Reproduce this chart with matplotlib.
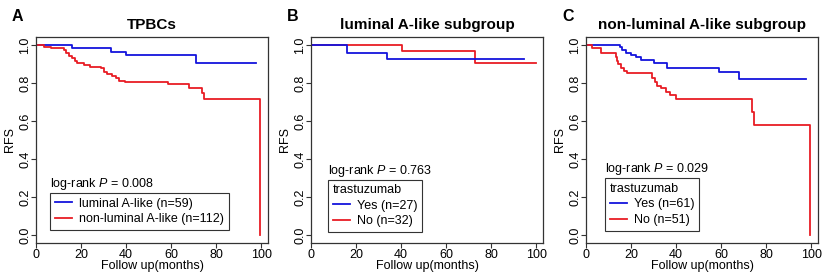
import matplotlib
matplotlib.use("Agg")
import matplotlib.pyplot as plt

plt.rcParams['font.family'] = ['Liberation Sans', 'DejaVu Sans']
plt.rcParams['mathtext.fontset'] = 'custom'
plt.rcParams['mathtext.rm'] = 'Liberation Sans'
plt.rcParams['mathtext.it'] = 'Liberation Sans:italic'

# survival curves (time in months, RFS)
a_lum_t = [0, 16.1, 33.2, 39.9, 71.0, 97.8]
a_lum_s = [1.0, 0.982, 0.965, 0.947, 0.904, 0.904]
a_non_t = [0, 3.6, 6.8, 12.4, 13.2, 14.7, 15.9, 17.2, 18.4, 21.3, 24.0, 28.7,
           30.2, 31.4, 33.9, 35.4, 36.9, 39.4, 58.8, 68.1, 73.6, 74.7, 99.6]
a_non_s = [1.0, 0.991, 0.982, 0.974, 0.960, 0.944, 0.930, 0.917, 0.903, 0.895,
           0.886, 0.877, 0.860, 0.846, 0.837, 0.825, 0.812, 0.807, 0.795, 0.772,
           0.746, 0.714, 0.0]

b_yes_t = [0, 16.1, 33.6, 94.7]
b_yes_s = [1.0, 0.96, 0.925, 0.925]
b_no_t = [0, 40.6, 72.7, 99.9]
b_no_s = [1.0, 0.968, 0.904, 0.904]

c_yes_t = [0, 15.1, 16.1, 17.6, 19.9, 22.1, 24.6, 30.2, 35.9, 59.1, 68.1, 97.8]
c_yes_s = [1.0, 0.988, 0.974, 0.960, 0.947, 0.935, 0.921, 0.907, 0.880, 0.860,
           0.821, 0.821]
c_no_t = [0, 2.8, 6.8, 13.2, 13.9, 14.4, 15.4, 16.9, 18.4, 29.5, 30.5, 31.7,
          33.5, 35.4, 37.3, 39.9, 73.6, 74.7, 99.3]
c_no_s = [1.0, 0.982, 0.960, 0.939, 0.917, 0.898, 0.877, 0.865, 0.854, 0.825,
          0.807, 0.784, 0.772, 0.754, 0.737, 0.714, 0.649, 0.579, 0.0]

letters = ['A', 'B', 'C']
titles = ['TPBCs', 'luminal A-like subgroup', 'non-luminal A-like subgroup']
pvals = ['0.008', '0.763', '0.029']
BLUE = '#1414dc'
RED = '#e81c24'

fig = plt.figure(figsize=(8.24, 2.77), dpi=100)
W, H = 824, 277
lefts = [36, 311, 586]

panels = [
    [(a_lum_t, a_lum_s, BLUE, 'luminal A-like (n=59)'),
     (a_non_t, a_non_s, RED, 'non-luminal A-like (n=112)')],
    [(b_no_t, b_no_s, RED, 'No (n=32)'),
     (b_yes_t, b_yes_s, BLUE, 'Yes (n=27)')],
    [(c_yes_t, c_yes_s, BLUE, 'Yes (n=61)'),
     (c_no_t, c_no_s, RED, 'No (n=51)')],
]
leg_pos = [(0.06, 0.063), (0.073, 0.053), (0.082, 0.06)]

fig.canvas.draw()
for i in range(3):
    ax = fig.add_axes([lefts[i] / W, 34 / H, 232 / W, 206 / H])
    handles = {}
    for t, s, col, lab in panels[i]:
        ln, = ax.step(t, s, where='post', color=col, lw=1.3)
        handles[lab] = ln
    ax.set_xlim(0, 103)
    ax.set_ylim(-0.042, 1.042)
    ax.set_xticks([0, 20, 40, 60, 80, 100])
    ax.set_yticks([0.0, 0.2, 0.4, 0.6, 0.8, 1.0])
    ax.set_yticklabels(['0.0', '0.2', '0.4', '0.6', '0.8', '1.0'],
                       rotation=90, va='center')
    ax.tick_params(labelsize=9, length=3.5, width=0.8, color='#333333', pad=1)
    ax.tick_params(axis='y', pad=0)
    for sp in ax.spines.values():
        sp.set_color('#333333')
        sp.set_linewidth(0.9)
    ax.set_xlabel('Follow up(months)', fontsize=9, labelpad=-1)
    ax.set_ylabel('RFS', fontsize=9, labelpad=2)
    ax.set_title(titles[i], fontsize=11, fontweight='bold', pad=6)
    fig.text((lefts[i] - 24) / W, 0.925, letters[i], fontsize=11.5,
             fontweight='bold')

    if i == 0:
        order = [p[3] for p in panels[i]]
        title = None
    else:
        order = [p[3] for p in panels[i] if p[3].startswith('Yes')] + \
                [p[3] for p in panels[i] if p[3].startswith('No')]
        title = 'trastuzumab'
    leg = ax.legend([handles[k] for k in order], order, loc='lower left',
                    bbox_to_anchor=leg_pos[i], fontsize=9, title=title,
                    title_fontsize=9, alignment='left', fancybox=False,
                    edgecolor='#333333', framealpha=1, handlelength=1.4,
                    handletextpad=0.55, borderpad=0.38, labelspacing=0.28,
                    borderaxespad=0)
    leg.get_frame().set_linewidth(0.8)

    # log-rank text sits just above the legend box
    fig.canvas.draw()
    bb = leg.get_window_extent().transformed(ax.transAxes.inverted())
    ax.text(bb.x0, bb.y1 + 0.005, 'log-rank $P$ = ' + pvals[i],
            transform=ax.transAxes, fontsize=9, va='bottom', ha='left')

fig.savefig('out.png', dpi=100)
